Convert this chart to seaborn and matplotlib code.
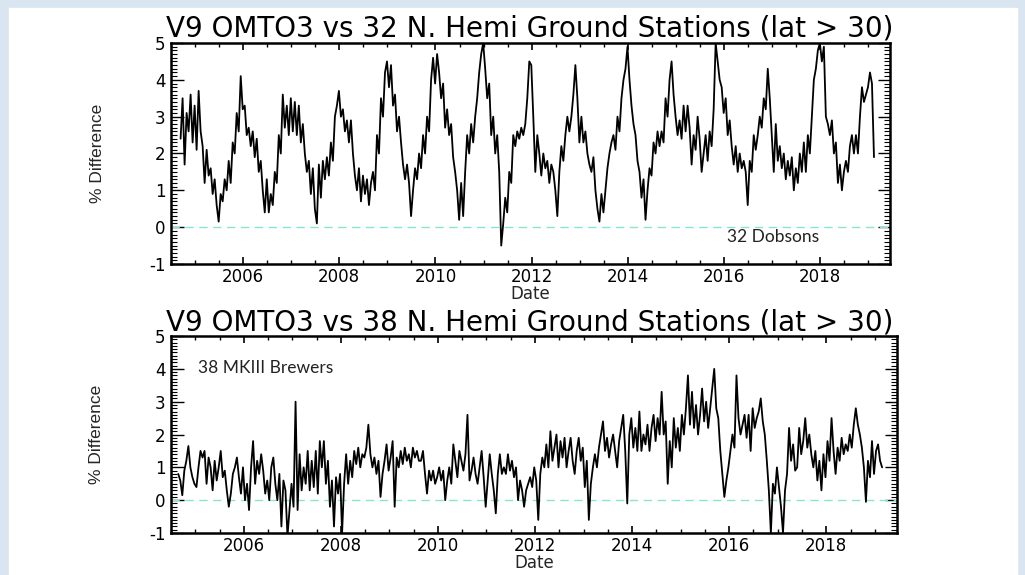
import numpy as np
import pandas as pd
import matplotlib
matplotlib.use('Agg')
import matplotlib.pyplot as plt
from matplotlib.patches import Rectangle
from matplotlib.ticker import MultipleLocator
import seaborn as sns

# -----------------------------------------
# data (semi-monthly samples, % difference)
# -----------------------------------------
dob_start = 2004.70
dobsons = [
    2.4, 3.5, 1.7, 3.1, 2.6, 3.6, 2.3, 3.3, 2.1, 3.7, 2.6, 2.2,
    1.2, 2.1, 1.4, 1.6, 0.9, 1.3, 0.6, 0.15, 0.9, 0.7, 1.3, 1.0,
    1.8, 1.2, 2.3, 2.0, 3.1, 2.6, 4.1, 3.2, 3.3, 2.5, 2.7, 2.2,
    2.6, 1.9, 2.4, 1.5, 1.8, 1.0, 0.4, 1.3, 0.4, 0.9, 0.6, 1.5,
    1.2, 2.5, 2.0, 3.6, 2.7, 3.3, 2.5, 3.5, 2.6, 3.4, 2.5, 3.3,
    2.3, 2.8, 2.0, 1.5, 1.8, 0.9, 1.6, 0.5, 0.1, 1.7, 0.8, 1.8,
    1.3, 1.9, 1.4, 2.3, 1.8, 3.0, 3.3, 3.7, 3.0, 3.2, 2.6, 2.9,
    2.3, 2.9, 2.0, 1.4, 1.0, 1.6, 0.7, 1.4, 0.9, 1.3, 0.6, 1.2,
    1.5, 1.0, 2.5, 2.0, 3.5, 3.0, 4.2, 4.5, 3.8, 4.4, 3.3, 3.6,
    2.6, 3.0, 2.3, 1.7, 1.3, 1.7, 1.2, 0.3, 1.0, 1.6, 1.3, 2.0,
    1.6, 2.5, 2.0, 3.0, 2.6, 4.0, 4.6, 3.9, 4.7, 4.2, 3.5, 3.9,
    2.7, 3.2, 2.5, 2.8, 1.9, 1.5, 1.0, 0.2, 1.2, 0.3, 1.5, 2.5,
    2.0, 2.8, 2.3, 3.0, 3.5, 4.2, 4.7, 5.0, 4.3, 3.5, 3.9, 2.5,
    3.0, 2.0, 2.5, 1.5, -0.5, 0.1, 0.8, 0.4, 1.5, 1.2, 2.5, 2.2,
    2.6, 2.4, 2.7, 2.5, 2.8, 3.5, 4.5, 4.4, 3.0, 1.5, 2.5, 2.0,
    1.4, 2.0, 1.6, 1.8, 1.2, 1.7, 1.5, 1.0, 0.3, 1.5, 2.2, 1.8,
    2.5, 3.0, 2.6, 3.0, 3.6, 4.4, 3.5, 2.3, 3.0, 2.3, 2.6, 2.0,
    1.7, 1.5, 1.9, 1.0, 0.5, 0.15, 0.9, 0.4, 1.0, 1.6, 2.0, 2.3,
    2.5, 2.1, 3.0, 2.6, 3.5, 4.0, 4.3, 4.9, 4.0, 3.3, 2.8, 2.5,
    1.8, 1.5, 0.8, 1.3, 0.2, 1.0, 1.6, 1.4, 2.3, 2.0, 2.6, 2.2,
    2.6, 2.3, 3.5, 3.0, 4.0, 4.5, 3.6, 3.0, 2.5, 2.9, 2.4, 3.3,
    2.6, 3.3, 2.7, 1.7, 2.5, 2.1, 3.0, 2.4, 1.5, 2.0, 2.5, 1.8,
    2.6, 2.2, 3.2, 5.0, 4.5, 4.0, 3.8, 3.1, 3.5, 2.5, 2.9, 2.2,
    1.7, 2.2, 1.5, 2.0, 1.6, 1.8, 1.5, 0.6, 1.8, 1.5, 2.5, 2.1,
    2.5, 3.0, 2.7, 3.5, 3.2, 4.3, 3.5, 2.5, 1.5, 2.8, 1.8, 2.2,
    1.6, 2.0, 1.3, 1.8, 1.4, 1.9, 1.0, 1.6, 1.2, 2.0, 1.5, 2.3,
    1.5, 2.5, 2.0, 3.0, 4.0, 4.3, 4.8, 5.0, 4.5, 4.9, 3.0, 2.8,
    2.5, 2.9, 2.0, 2.3, 1.2, 1.7, 1.0, 1.5, 1.8, 1.5, 2.2, 2.5,
    2.0, 2.5, 2.0, 3.0, 3.8, 3.4, 3.6, 3.8, 4.2, 3.9, 1.9,
]

brw_start = 2004.65
brewers = [
    0.8, 0.6, 0.15, 0.9, 1.2, 1.65, 1.0, 0.7, 0.5, 0.4, 1.0, 1.5,
    1.3, 1.5, 0.5, 1.3, 1.0, 0.3, 1.2, 0.6, 1.0, 1.5, 0.7, 0.9,
    0.3, -0.2, 0.2, 0.8, 1.0, 1.3, 0.7, 0.2, 1.0, 0.0, 0.5, -0.3,
    1.0, 1.8, 0.5, 1.2, 0.8, 1.4, 0.9, 0.2, 0.6, 0.0, 1.0, 1.3,
    0.5, 0.0, 0.8, -0.8, 0.6, 0.3, -1.1, -0.3, 0.5, -0.2, 3.0, -0.3,
    1.4, 0.3, 1.0, 0.5, 1.5, 0.3, 1.2, 0.4, 1.5, 0.2, 1.8, 1.0,
    1.8, 0.5, 1.2, -0.2, 0.6, -0.8, 0.7, 0.2, 0.8, -1.0, 0.5, 1.4,
    0.5, 1.2, 0.7, 1.5, 1.1, 1.6, 1.0, 1.4, 1.3, 1.6, 2.3, 1.4,
    1.0, 1.3, 0.8, 1.2, 0.1, 0.8, 1.2, 1.7, 0.9, 1.3, 1.8, -0.2,
    1.3, 1.0, 1.5, 1.1, 1.6, 1.2, 1.4, 1.0, 1.6, 1.3, 1.5, 1.2,
    1.2, 1.5, 0.8, 0.2, 0.9, 0.6, 0.9, 0.5, 0.7, 1.0, 0.6, 0.9,
    0.0, 0.6, 1.0, 0.5, 1.7, 1.2, 0.7, 1.5, 1.2, 0.9, 1.4, 2.6,
    0.6, 0.9, 1.3, 0.8, 0.5, 1.0, 1.5, 0.7, -0.2, 0.6, 1.4, 0.8,
    0.3, -0.4, 0.8, 1.4, 0.8, 1.0, 0.8, 1.4, 0.9, 1.2, 0.7, 1.0,
    0.0, 0.6, 0.3, -0.2, 0.3, 0.5, 0.7, 0.4, 1.0, 0.6, -0.6, 0.8,
    1.3, 1.0, 1.7, 1.0, 2.1, 1.2, 1.6, 2.0, 1.0, 1.8, 1.3, 1.9,
    1.0, 1.5, 1.9, 1.2, 0.8, 1.5, 1.9, 1.2, 1.6, 0.4, 1.2, -0.6,
    0.5, 1.0, 1.4, 1.0, 1.6, 2.0, 2.4, 1.5, 1.9, 1.3, 1.7, 2.0,
    1.5, 1.0, 1.8, 2.2, 2.6, 1.5, -0.1, 2.0, 2.5, 1.6, 2.2, 1.5,
    2.7, 1.5, 2.0, 1.7, 2.3, 1.5, 2.2, 2.6, 1.8, 2.5, 2.0, 3.3,
    2.0, 2.4, 0.5, 1.8, 1.0, 2.5, 1.6, 2.2, 1.5, 2.6, 2.0, 2.8,
    3.8, 2.3, 3.3, 2.2, 2.9, 2.0, 2.6, 3.4, 2.4, 3.0, 2.2, 2.8,
    3.4, 4.0, 2.8, 2.5, 1.5, 0.8, 0.1, 0.6, 1.0, 1.5, 2.0, 1.6,
    3.8, 2.5, 2.0, 2.3, 2.6, 1.9, 2.6, 1.5, 2.8, 2.2, 2.5, 2.7,
    3.1, 2.4, 2.0, 1.2, 0.3, -1.0, 0.5, 0.2, 1.0, 0.4, -0.2, -1.0,
    0.3, 0.8, 2.2, 1.2, 1.7, 0.9, 1.0, 2.2, 1.4, 1.8, 2.5, 1.6,
    2.0, 1.4, 1.0, 1.5, 0.6, 1.2, 0.3, 1.4, 0.7, 1.8, 1.2, 2.5,
    1.5, 0.8, 1.6, 1.2, 1.9, 1.4, 1.7, 1.5, 2.0, 1.6, 2.3, 2.8,
    2.3, 2.0, 1.6, 1.0, -0.05, 1.2, 0.7, 1.8, 0.8, 1.5, 1.7, 1.2, 1.0,
]

titles = ['V9 OMTO3 vs 32 N. Hemi Ground Stations (lat > 30)',
          'V9 OMTO3 vs 38 N. Hemi Ground Stations (lat > 30)']
notes = ['32 Dobsons', '38 MKIII Brewers']
year_ticks = [2006, 2008, 2010, 2012, 2014, 2016, 2018]

step = 1 / 24
df_dob = pd.DataFrame({'Date': dob_start + np.arange(len(dobsons)) * step, 'Diff': dobsons})
df_brw = pd.DataFrame({'Date': brw_start + np.arange(len(brewers)) * step, 'Diff': brewers})

# -----------------------------------------
# figure
# -----------------------------------------
sns.set_style('white')
plt.rcParams['font.family'] = ['DejaVu Sans']
plt.rcParams['axes.unicode_minus'] = False

fig = plt.figure(figsize=(10.25, 5.75), dpi=100, facecolor='#d9e5f1')
fig.patches.append(Rectangle((9 / 1025, 0), 1008 / 1025, 567 / 575,
                             transform=fig.transFigure, color='white', zorder=-1))

ax1 = fig.add_axes([0.1668, 0.5409, 0.7015, 0.3843])
ax2 = fig.add_axes([0.1668, 0.0730, 0.7080, 0.3426])

panels = [(ax1, df_dob, notes[0], (0.773, 0.122), 1 - 28 / 575),
          (ax2, df_brw, notes[1], (0.037, 0.836), 1 - 322 / 575)]

for i, (ax, df, note, npos, ty) in enumerate(panels):
    ax.set_facecolor('white')
    ax.axhline(0, color='#86e6d3', lw=1, dashes=(6, 4), zorder=1)
    sns.lineplot(data=df, x='Date', y='Diff', ax=ax, color='black', lw=1.3, zorder=2)

    ax.set_xlim(2004.5, 2019.45)
    ax.set_ylim(-1, 5)
    ax.set_xticks(year_ticks)
    ax.xaxis.set_minor_locator(MultipleLocator(0.5))
    ax.yaxis.set_major_locator(MultipleLocator(1))
    ax.yaxis.set_minor_locator(MultipleLocator(0.1))
    ax.tick_params(which='both', direction='in', top=True, right=True,
                   bottom=True, left=True, colors='black', labelsize=12)
    ax.tick_params(axis='y', which='major', length=9, width=1, pad=4)
    ax.tick_params(axis='y', which='minor', length=4, width=0.8)
    ax.tick_params(axis='x', which='major', length=5, width=1.2, pad=3)
    ax.tick_params(axis='x', which='minor', length=3, width=1)
    for s in ax.spines.values():
        s.set_color('black')
        s.set_linewidth(1.8)

    ax.set_xlabel('Date', fontsize=12, labelpad=-1)
    ax.set_ylabel('% Difference', fontsize=12.5,
                  family=['Liberation Sans Narrow', 'Liberation Sans', 'DejaVu Sans'])
    ax.yaxis.set_label_coords(-0.092, 0.5)

    ax.text(npos[0], npos[1], note, transform=ax.transAxes, fontsize=12.5,
            family=['Lato', 'DejaVu Sans'], color='#222222', va='center', ha='left')

    fig.text(0.517, ty, titles[i], ha='center', va='center', fontsize=20, color='black')

fig.savefig('out.png', dpi=100, facecolor=fig.get_facecolor())
